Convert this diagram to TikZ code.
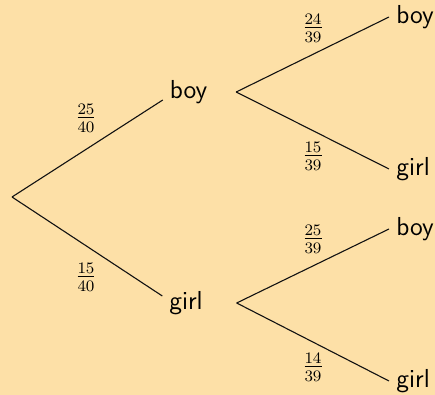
\documentclass[tikz,border=0pt]{standalone}
\usepackage{fontspec}
\usepackage{tikz}
\definecolor{fondo}{HTML}{FDE0A7}
\definecolor{ink}{HTML}{111111}
\tikzset{
  nodo/.style={font=\sffamily\fontsize{13}{15}\selectfont,inner sep=3.3pt},
  hoja/.style={nodo,anchor=west,inner xsep=3.5pt},
  rama/.style={draw=ink,line width=0.55pt},
  prob/.style={font=\fontsize{12}{14}\selectfont,inner sep=1pt},
}
\begin{document}
\begin{tikzpicture}[x=0.5pt,y=-0.5pt]
  \useasboundingbox (0,0) rectangle (435,395);
  \fill[fondo] (0,0) rectangle (435,395);
  % raiz y primer nivel
  \coordinate (raiz) at (12,197);
  \node[nodo] (chico) at (188.5,92) {boy};
  \node[nodo] (chica) at (186,303) {girl};
  % segundo nivel
  \foreach \n/\y/\t in {bb/17/boy,bg/169/girl,gb/229/boy,gg/381/girl}
    \node[hoja] (\n) at (389,\y) {\t};
  % ramas
  \draw[rama] (raiz) -- ([yshift=-4pt]chico.west);
  \draw[rama] (raiz) -- ([yshift=3.5pt]chica.west);
  \foreach \h in {bb,bg}
    \draw[rama] ([xshift=11pt]chico.east) -- (\h.west);
  \foreach \h in {gb,gg}
    \draw[rama] ([xshift=13.5pt]chica.east) -- (\h.west);
  % probabilidades
  \foreach \n/\x/\y/\a/\b in {pb/86/118/25/40,pg/86/277/15/40,pbb/313/28/24/39,
      pbg/313/156/15/39,pgb/313/239/25/39,pgg/313/367/14/39}
    \node[prob] (\n) at (\x,\y) {$\frac{\a}{\b}$};
\end{tikzpicture}
\end{document}
